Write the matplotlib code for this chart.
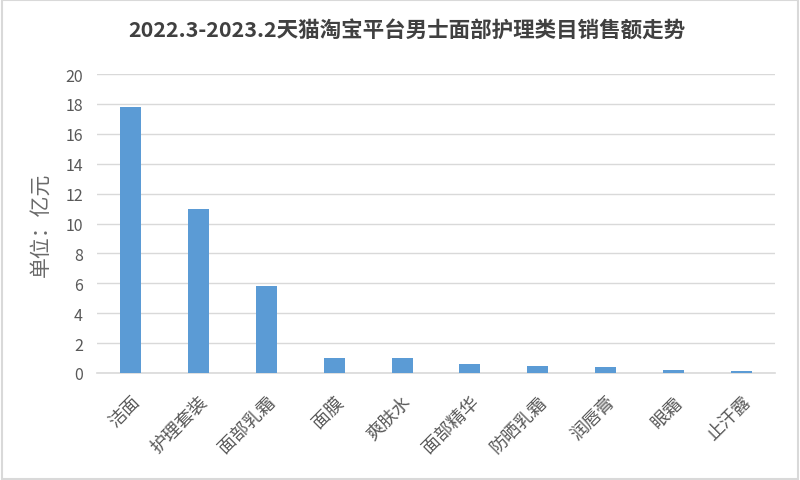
import numpy as np
import matplotlib.pyplot as plt
from matplotlib.patches import Rectangle

plt.rcParams['font.family'] = ['Noto Sans CJK SC', 'DejaVu Sans']

# 品类与销售额（亿元）
categories = ['洁面', '护理套装', '面部乳霜', '面膜', '爽肤水',
              '面部精华', '防晒乳霜', '润唇膏', '眼霜', '止汗露']
sales = [17.8, 11.0, 5.8, 1.0, 1.0, 0.6, 0.48, 0.38, 0.18, 0.11]
yticks = [0, 2, 4, 6, 8, 10, 12, 14, 16, 18, 20]

text_col = '#595959'
grid_col = '#d9d9d9'

fig = plt.figure(figsize=(8, 4.81), dpi=100)
ax = fig.add_axes([0.121, 0.2225, 0.848, 0.6215])

x = np.arange(len(categories))
ax.bar(x, sales, width=0.31, color='#5b9bd5', zorder=3)

ax.set_xlim(-0.5, len(categories) - 0.5)
ax.set_ylim(0, 20)
ax.set_yticks(yticks)
ax.set_xticks(x)
ax.set_xticklabels(categories, rotation=45, ha='right', rotation_mode='anchor')

ax.grid(axis='y', color=grid_col, lw=1, zorder=0)
for s in ['top', 'right', 'left']:
    ax.spines[s].set_visible(False)
ax.spines['bottom'].set_color(grid_col)
ax.spines['bottom'].set_linewidth(1.2)
ax.tick_params(axis='both', length=0, colors=text_col, labelsize=11.5)
ax.tick_params(axis='x', pad=14, labelsize=13)
ax.tick_params(axis='y', pad=10)

ax.set_ylabel('单位：亿元', color='#6a6a6a', fontsize=15, labelpad=10)
fig.text(0.509, 0.937, '2022.3-2023.2天猫淘宝平台男士面部护理类目销售额走势',
         ha='center', va='center', fontsize=15.5, fontweight='bold', color='#404040')

# 外框
fig.patches.append(Rectangle((0.002, 0.003), 0.996, 0.994, transform=fig.transFigure,
                             fill=False, edgecolor=grid_col, lw=1.5))

fig.savefig('out.png', dpi=100)
